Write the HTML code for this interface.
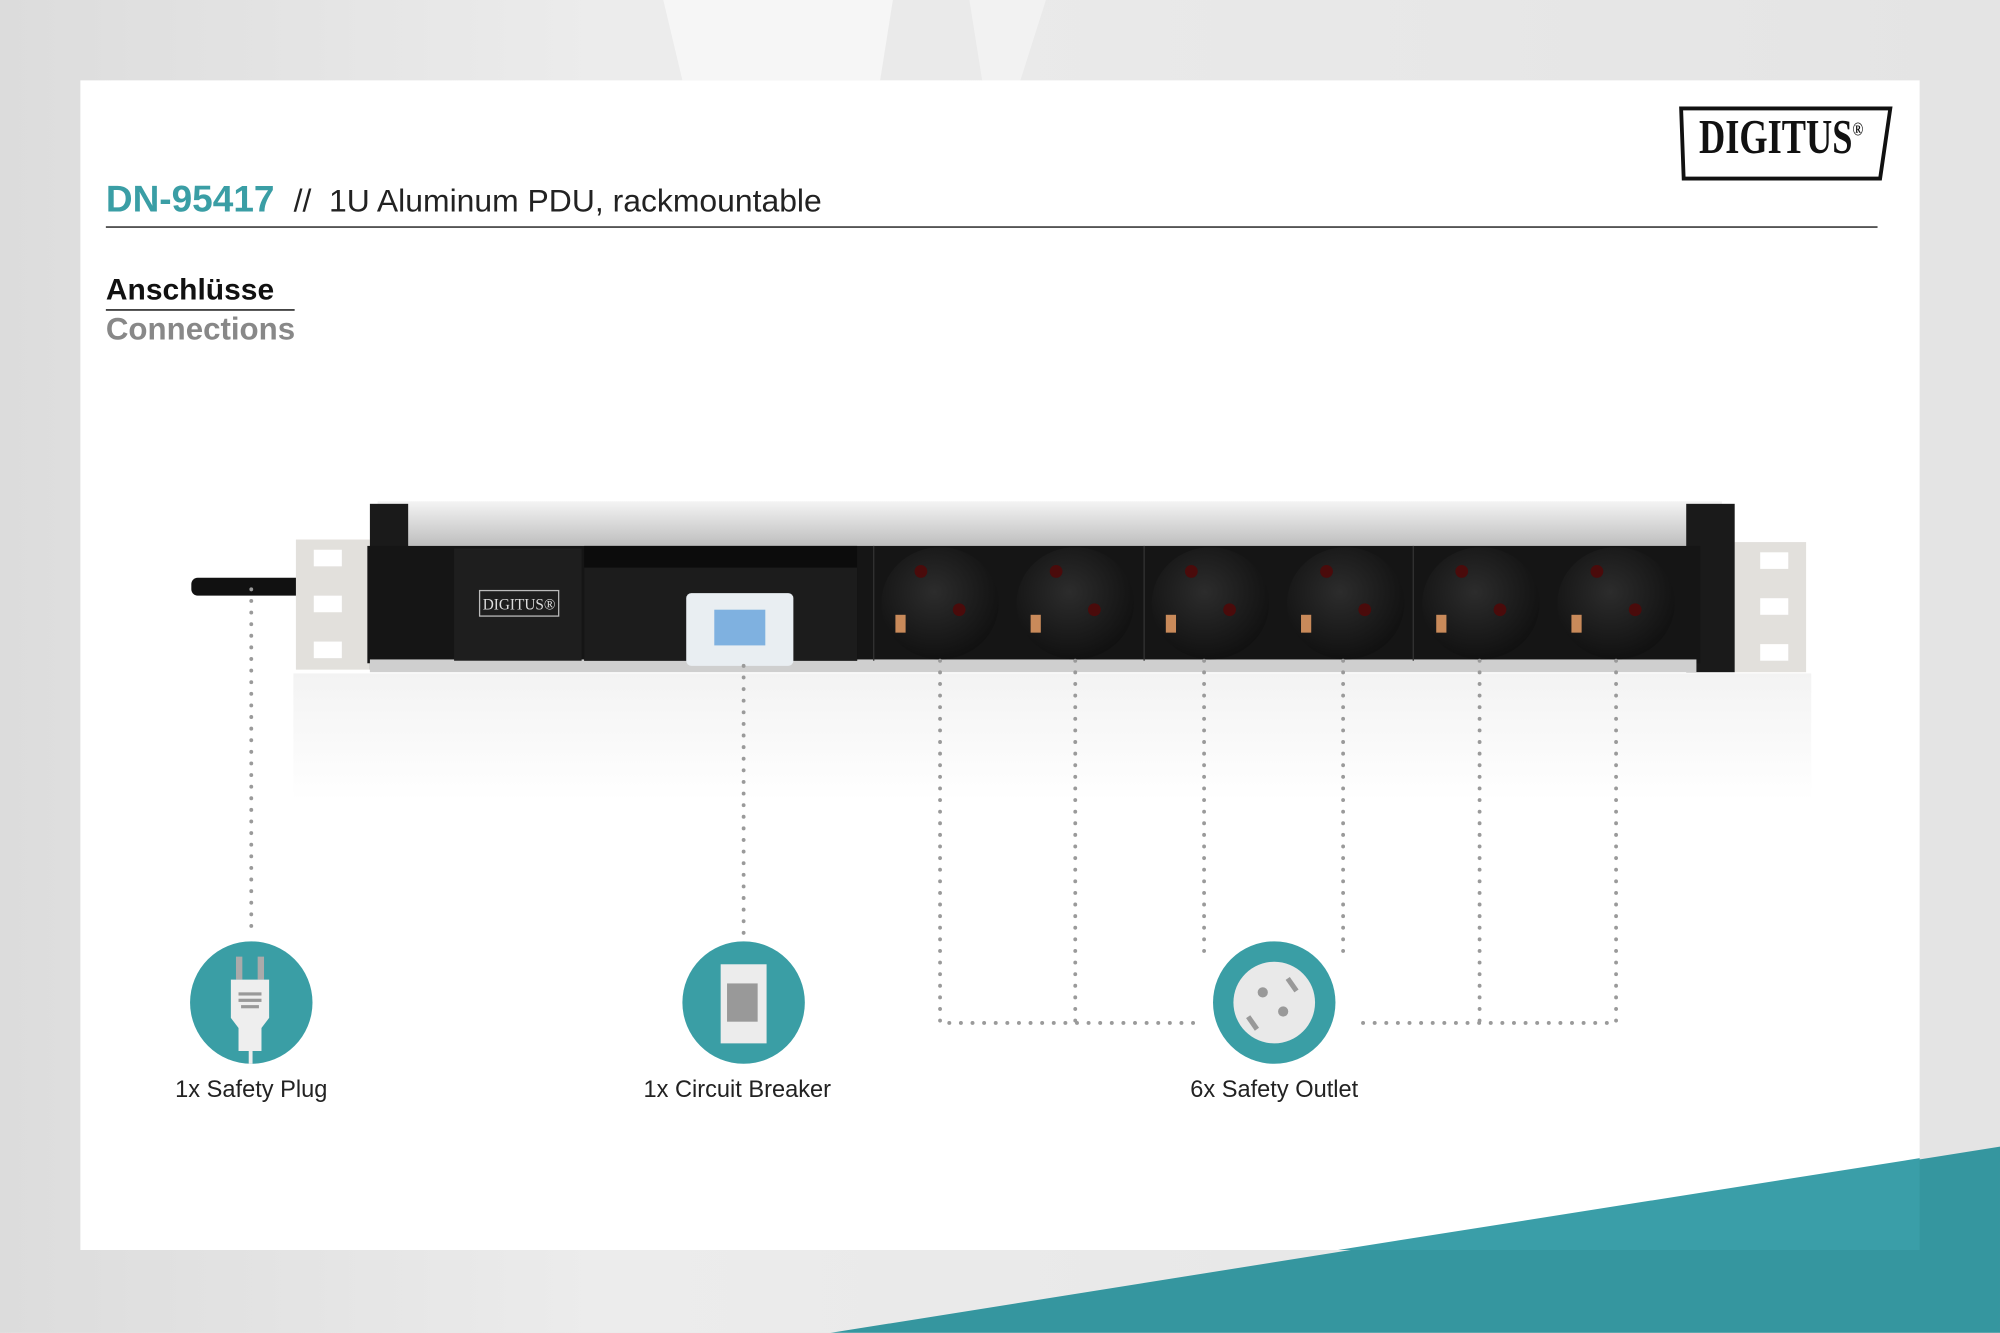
<!DOCTYPE html>
<html><head><meta charset="utf-8"><style>
html,body{margin:0;padding:0;width:2000px;height:1333px;overflow:hidden;background:#e8e8e8}
#w{position:absolute;left:0;top:0;width:1568px;height:1045px;transform:scale(1.27551);transform-origin:0 0;font-family:"Liberation Sans",sans-serif}
.a{position:absolute}
</style></head><body><div id="w">
<svg class="a" style="left:0;top:0" width="1568" height="1045">
<defs>
<linearGradient id="bg" x1="0" x2="1"><stop offset="0" stop-color="#dcdcdc"/><stop offset=".3" stop-color="#ececec"/><stop offset="1" stop-color="#e4e4e4"/></linearGradient>
<linearGradient id="al" x1="0" y1="0" x2="0" y2="1"><stop offset="0" stop-color="#f4f4f4"/><stop offset=".5" stop-color="#d8d8d8"/><stop offset="1" stop-color="#bcbcbc"/></linearGradient>
<linearGradient id="rf" x1="0" y1="0" x2="0" y2="1"><stop offset="0" stop-color="#f3f3f3"/><stop offset="1" stop-color="#fff"/></linearGradient>
<radialGradient id="so" cx=".45" cy=".4" r=".6"><stop offset="0" stop-color="#2c2c2c"/><stop offset="1" stop-color="#111"/></radialGradient>
</defs>
<rect width="1568" height="1045" fill="url(#bg)"/>
<polygon points="520,0 700,0 690,63 535,63" fill="#f6f6f6"/>
<polygon points="760,0 820,0 800,63 770,63" fill="#f2f2f2"/>
<rect x="63" y="63" width="1442" height="917" fill="#fff"/>
<polygon points="651,1045 1568,899 1568,1045" fill="#35969f"/>
<polygon points="1049,980 1505,908 1505,980" fill="#3a9ea8"/>
<polygon points="1318,85 1482,85 1474,140 1320,140" fill="none" stroke="#111" stroke-width="3"/>
<line x1="83" y1="178" x2="1472" y2="178" stroke="#555" stroke-width="1.5"/>
<line x1="83" y1="243" x2="231" y2="243" stroke="#444" stroke-width="1.5"/>
<rect x="230" y="528" width="1190" height="100" fill="url(#rf)"/>
<rect x="150" y="453" width="90" height="14" rx="5" fill="#111"/>
<rect x="232" y="423" width="58" height="102" fill="#e2e0dc"/>
<rect x="246" y="431" width="22" height="13" fill="#fff"/><rect x="246" y="467" width="22" height="13" fill="#fff"/><rect x="246" y="503" width="22" height="13" fill="#fff"/>
<rect x="1360" y="425" width="56" height="102" fill="#e2e0dc"/>
<rect x="1380" y="433" width="22" height="13" fill="#fff"/><rect x="1380" y="469" width="22" height="13" fill="#fff"/><rect x="1380" y="505" width="22" height="13" fill="#fff"/>
<rect x="296" y="393" width="1054" height="36" fill="url(#al)"/>
<rect x="290" y="395" width="30" height="130" fill="#1a1a1a"/>
<rect x="1322" y="395" width="38" height="132" fill="#1a1a1a"/>
<rect x="288" y="428" width="1045" height="92" fill="#151515"/>
<rect x="290" y="517" width="1040" height="10" fill="#cfcfcf"/>
<rect x="356" y="430" width="100" height="88" fill="#1e1e1e"/>
<rect x="376" y="463" width="62" height="20" fill="none" stroke="#bbb" stroke-width="1"/>
<text x="407" y="478" font-family="Liberation Serif,serif" font-size="12" fill="#ddd" text-anchor="middle">DIGITUS®</text>
<rect x="458" y="428" width="214" height="90" fill="#0c0c0c"/>
<polygon points="458,445 672,445 672,518 458,518" fill="#1c1c1c"/>
<rect x="538" y="465" width="84" height="57" rx="4" fill="#e9eef2"/>
<rect x="560" y="478" width="40" height="28" fill="#7fb1e0"/>
<line x1="685" y1="428" x2="685" y2="518" stroke="#333"/><line x1="897" y1="428" x2="897" y2="518" stroke="#333"/><line x1="1108" y1="428" x2="1108" y2="518" stroke="#333"/>
<g fill="url(#so)">
<ellipse cx="737" cy="473" rx="46" ry="44"/><ellipse cx="843" cy="473" rx="46" ry="44"/><ellipse cx="949" cy="473" rx="46" ry="44"/><ellipse cx="1055" cy="473" rx="46" ry="44"/><ellipse cx="1161" cy="473" rx="46" ry="44"/><ellipse cx="1267" cy="473" rx="46" ry="44"/>
</g>
<g fill="#4a0b0b">
<circle cx="722" cy="448" r="5"/><circle cx="752" cy="478" r="5"/><circle cx="828" cy="448" r="5"/><circle cx="858" cy="478" r="5"/><circle cx="934" cy="448" r="5"/><circle cx="964" cy="478" r="5"/><circle cx="1040" cy="448" r="5"/><circle cx="1070" cy="478" r="5"/><circle cx="1146" cy="448" r="5"/><circle cx="1176" cy="478" r="5"/><circle cx="1252" cy="448" r="5"/><circle cx="1282" cy="478" r="5"/>
</g>
<g fill="#c98a5a">
<rect x="702" y="482" width="8" height="14"/><rect x="808" y="482" width="8" height="14"/><rect x="914" y="482" width="8" height="14"/><rect x="1020" y="482" width="8" height="14"/><rect x="1126" y="482" width="8" height="14"/><rect x="1232" y="482" width="8" height="14"/>
</g>
<g stroke="#9a9a9a" stroke-width="3" stroke-dasharray="0.1 9" stroke-linecap="round" fill="none">
<path d="M197 462V735"/><path d="M583 522V735"/>
<path d="M737 518V802H940"/><path d="M843 518V802"/><path d="M944 518V748"/><path d="M1053 518V748"/><path d="M1160 518V802"/><path d="M1267 518V802H1060"/>
</g>
<circle cx="197" cy="786" r="48" fill="#3a9ea5"/>
<rect x="185" y="750" width="5" height="18" fill="#aaa"/><rect x="202" y="750" width="5" height="18" fill="#aaa"/>
<path d="M181 768h30v30l-6 8v18h-18v-18l-6-8z" fill="#eee"/>
<rect x="187" y="778" width="18" height="2.5" fill="#999"/><rect x="187" y="783" width="18" height="2.5" fill="#999"/><rect x="189" y="788" width="14" height="2.5" fill="#999"/>
<rect x="195" y="824" width="3" height="10" fill="#eee"/>
<circle cx="583" cy="786" r="48" fill="#3a9ea5"/>
<rect x="565" y="756" width="36" height="62" fill="#ececec"/>
<rect x="570" y="771" width="24" height="30" fill="#999"/>
<circle cx="999" cy="786" r="48" fill="#3a9ea5"/>
<circle cx="999" cy="786" r="32" fill="#e9e9e9"/>
<circle cx="990" cy="778" r="4" fill="#999"/><circle cx="1006" cy="793" r="4" fill="#999"/>
<rect x="1011" y="766" width="4" height="12" transform="rotate(-35 1013 772)" fill="#999"/>
<rect x="980" y="796" width="4" height="12" transform="rotate(-35 982 802)" fill="#999"/>
</svg>
<div class="a" style="left:1332px;top:86px;font-family:'Liberation Serif',serif;font-size:38px;font-weight:bold;transform:scaleX(.75);transform-origin:0 0;color:#111;white-space:nowrap">DIGITUS<sup style="font-size:15px">®</sup></div>
<div class="a" style="left:83px;top:141px;font-size:29px;font-weight:bold;color:#3a9ea5;white-space:nowrap">DN-95417 <span style="font-weight:normal;color:#222;font-size:25px">&nbsp;//&nbsp; 1U Aluminum PDU, rackmountable</span></div>
<div class="a" style="left:83px;top:214px;font-size:23.5px;font-weight:bold;color:#111">Anschlüsse</div>
<div class="a" style="left:83px;top:245px;font-size:24.5px;font-weight:bold;color:#888">Connections</div>
<div class="a" style="left:97px;top:843px;width:200px;text-align:center;font-size:18.5px;color:#222">1x Safety Plug</div>
<div class="a" style="left:478px;top:843px;width:200px;text-align:center;font-size:18.5px;color:#222">1x Circuit Breaker</div>
<div class="a" style="left:899px;top:843px;width:200px;text-align:center;font-size:18.5px;color:#222">6x Safety Outlet</div>
</div></body></html>
